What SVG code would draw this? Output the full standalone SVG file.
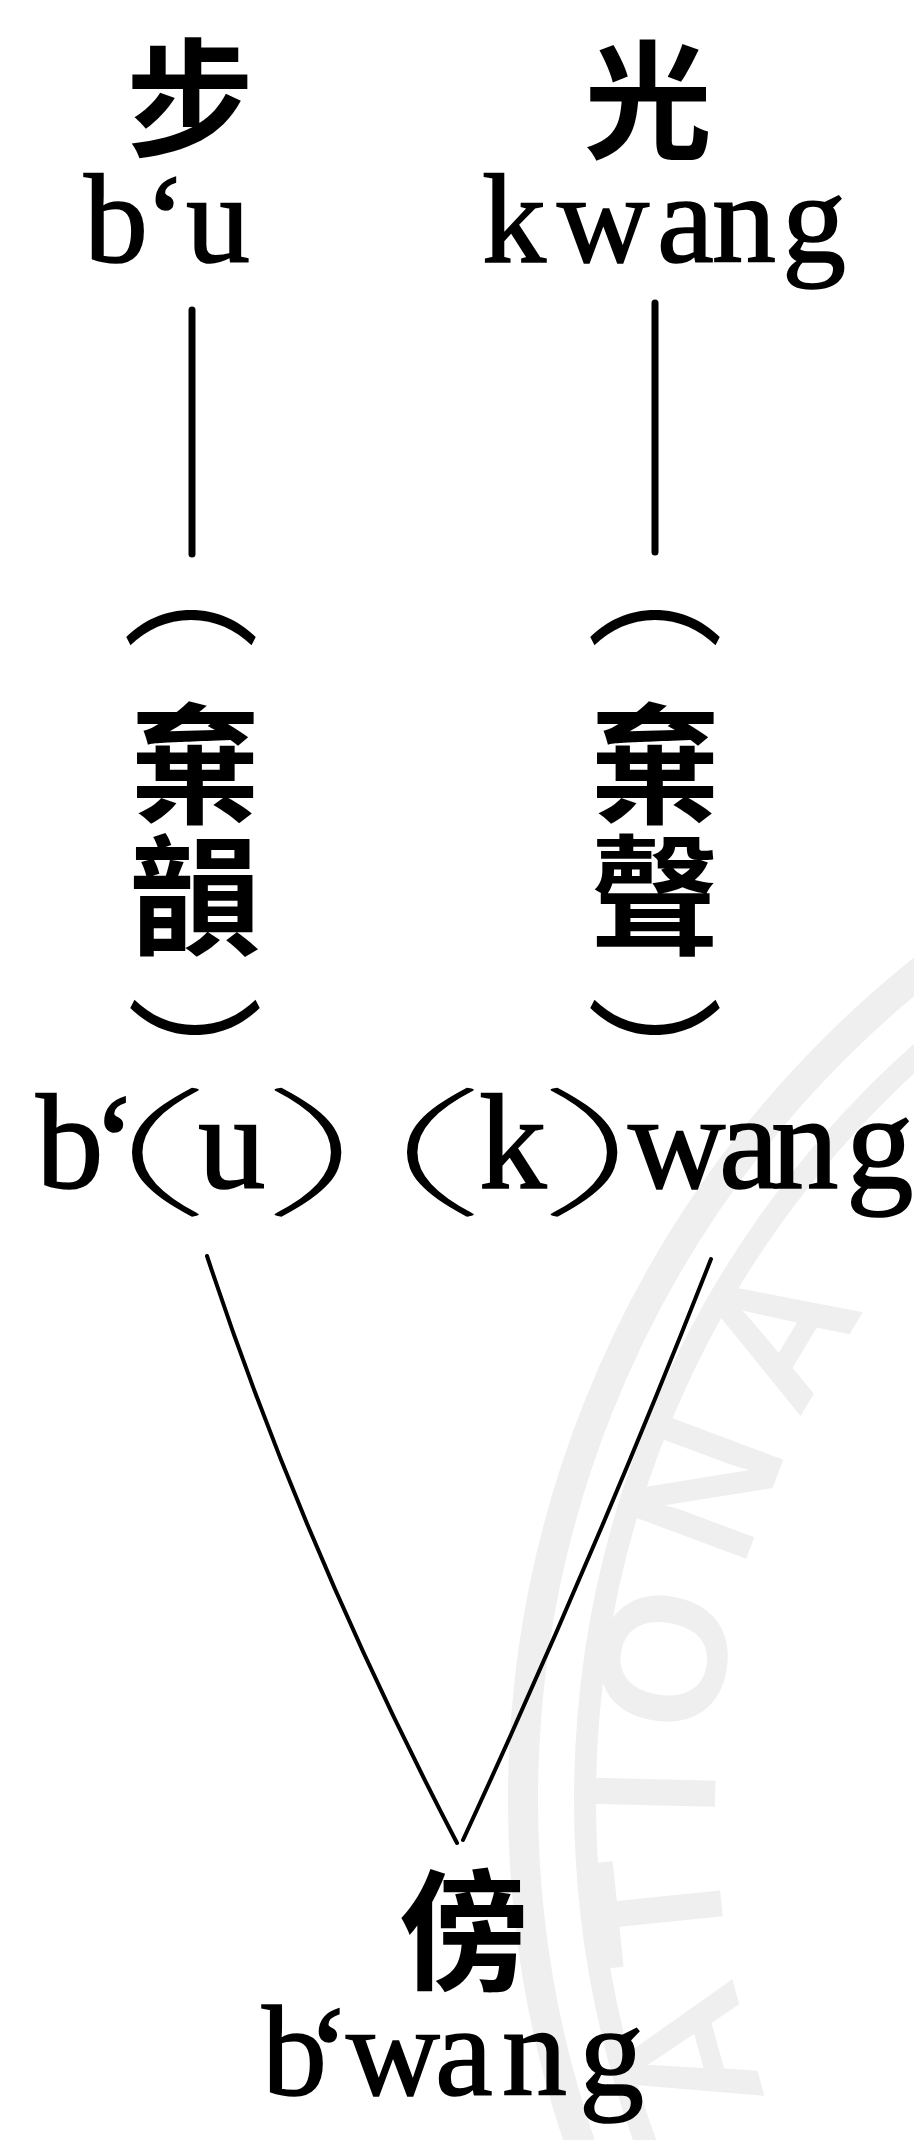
<svg xmlns="http://www.w3.org/2000/svg" width="914" height="2140" viewBox="0 0 914 2140">
<style>
.cjk{font-family:"Noto Sans CJK TC","Noto Sans CJK SC",sans-serif;fill:#000;font-weight:700}
.par{font-family:"Noto Sans CJK TC","Noto Sans CJK SC",sans-serif;fill:#000;font-weight:400}
.lat{font-family:"Liberation Serif","Times New Roman",serif;fill:#000;stroke:#000;stroke-width:1.6}
.pl{font-family:Lato,"Liberation Sans",sans-serif;font-weight:200;fill:#000;stroke:#000;stroke-width:2}
.ln{stroke:#000;fill:none;stroke-linecap:round}
.wm{fill:none;stroke:#efefef}
.wmt{font-family:"Liberation Sans",Arial,sans-serif;font-weight:700;fill:#efefef}
</style>
<defs>
<path id="wmarc" d="M789,2150 A870,870 0 0 1 872,1301"/>
</defs>
<rect width="914" height="2140" fill="#fff"/>
<g id="watermark">
<circle class="wm" cx="1585" cy="1800" r="1062" stroke-width="30"/>
<circle class="wm" cx="1585" cy="1800" r="1000" stroke-width="22"/>
<text class="wmt" font-size="180" letter-spacing="30"><textPath href="#wmarc" startOffset="55">ATIONA</textPath></text>
</g>
<g id="connectors">
<line class="ln" x1="192" y1="310" x2="192" y2="554" stroke-width="7"/>
<line class="ln" x1="655" y1="303" x2="655" y2="552" stroke-width="7"/>
<path class="ln" d="M207,1256 Q304,1550 457,1843" stroke-width="4"/>
<path class="ln" d="M711,1259 Q597,1550 463,1840" stroke-width="4"/>
</g>
<g id="node-bu">
<text><tspan class="cjk" x="126" y="147" font-size="128">步</tspan><tspan class="lat" x="84 144 186" y="262" font-size="128">b‘u</tspan></text>
</g>
<g id="node-kwang">
<text><tspan class="cjk" x="584" y="149" font-size="128">光</tspan><tspan class="lat" x="482 557 657 712 782" y="262" font-size="128">kwang</tspan></text>
</g>
<g id="node-left-col">
<text><tspan class="par" x="123" y="635" font-size="136">︵</tspan><tspan class="cjk" x="130 130" y="813 944" font-size="130">棄韻</tspan><tspan class="par" x="127" y="1114" font-size="136">︶</tspan></text>
</g>
<g id="node-right-col">
<text><tspan class="par" x="587" y="635" font-size="136">︵</tspan><tspan class="cjk" x="590 590" y="813 944" font-size="130">棄聲</tspan><tspan class="par" x="587" y="1114" font-size="136">︶</tspan></text>
</g>
<g id="node-middle">
<text class="lat" y="1188" font-size="135" x="36 92">b‘</text>
<text class="pl" font-size="145" transform="translate(108,1198) scale(2.9,1)">(</text>
<text class="lat" y="1188" font-size="135" x="198">u</text>
<text class="pl" font-size="145" transform="translate(260,1198) scale(2.9,1)">)</text>
<text class="pl" font-size="145" transform="translate(383,1198) scale(2.9,1)">(</text>
<text class="lat" y="1188" font-size="135" x="479">k</text>
<text class="pl" font-size="145" transform="translate(536,1198) scale(2.9,1)">)</text>
<text class="lat" y="1188" font-size="135" x="628 719 771 846">wang</text>
</g>
<g id="node-bang">
<text><tspan class="cjk" x="399" y="1979" font-size="130">傍</tspan><tspan class="lat" x="262 307 346 435 502 579" y="2095" font-size="130">b‘wang</tspan></text>
</g>
</svg>
